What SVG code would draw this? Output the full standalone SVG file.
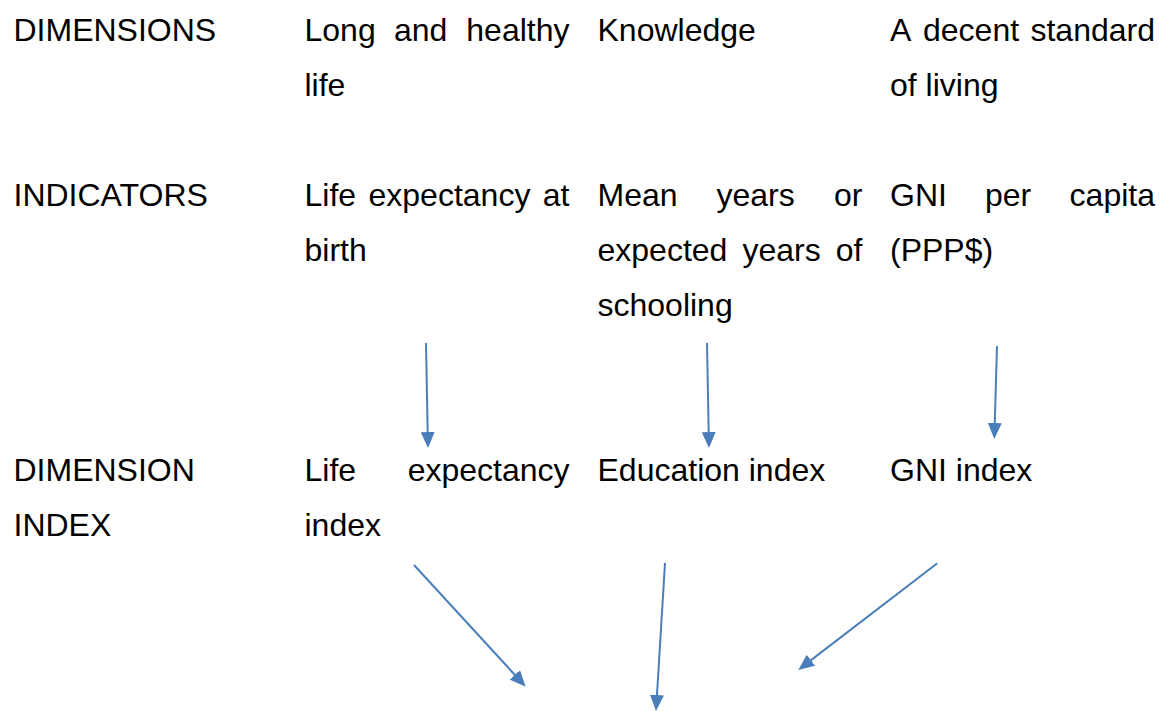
<svg xmlns="http://www.w3.org/2000/svg" width="1159" height="711" viewBox="0 0 1159 711">
  <style>
    text { font-family: "Liberation Sans", Arial, sans-serif; font-size: 32px; fill: #000; }
    .r { text-anchor: end; }
    .arrow { stroke: #4A7EBB; stroke-width: 2; fill: none; marker-end: url(#head); }
  </style>
  <defs>
    <marker id="head" viewBox="0 0 8 7" refX="3" refY="3.5" markerWidth="8" markerHeight="7" markerUnits="strokeWidth" orient="auto">
      <path d="M0,0 L8,3.5 L0,7 z" fill="#4A7EBB"/>
    </marker>
  </defs>
  <rect width="1159" height="711" fill="#fff"/>

  <!-- row labels -->
  <g id="label-dimensions"><text x="13.5" y="40.5">DIMENSIONS</text></g>
  <g id="label-indicators"><text x="13.5" y="205.5">INDICATORS</text></g>
  <g id="label-dimension-index">
    <text x="13.5" y="480.5">DIMENSION</text>
    <text x="13.5" y="535.5">INDEX</text>
  </g>

  <!-- dimensions row -->
  <g id="dim-health">
    <text x="304.5" y="40.5">Long</text><text x="394" y="40.5">and</text><text class="r" x="569.5" y="40.5">healthy</text>
    <text x="304.5" y="95.5">life</text>
  </g>
  <g id="dim-knowledge"><text x="597.5" y="40.5">Knowledge</text></g>
  <g id="dim-living">
    <text x="890" y="40.5">A</text><text x="923" y="40.5">decent</text><text class="r" x="1155" y="40.5">standard</text>
    <text x="890" y="95.5">of living</text>
  </g>

  <!-- indicators row -->
  <g id="ind-life">
    <text x="304.5" y="205.5">Life</text><text x="368.5" y="205.5">expectancy</text><text class="r" x="569.5" y="205.5">at</text>
    <text x="304.5" y="260.5">birth</text>
  </g>
  <g id="ind-school">
    <text x="597.5" y="205.5">Mean</text><text x="716.5" y="205.5">years</text><text class="r" x="862.5" y="205.5">or</text>
    <text x="597.5" y="260.5">expected</text><text x="742.5" y="260.5">years</text><text class="r" x="862.5" y="260.5">of</text>
    <text x="597.5" y="315.5">schooling</text>
  </g>
  <g id="ind-gni">
    <text x="890" y="205.5">GNI</text><text x="985" y="205.5">per</text><text class="r" x="1155" y="205.5">capita</text>
    <text x="890" y="260.5">(PPP$)</text>
  </g>

  <!-- dimension index row -->
  <g id="idx-life">
    <text x="304.5" y="480.5">Life</text><text class="r" x="569.5" y="480.5">expectancy</text>
    <text x="304.5" y="535.5">index</text>
  </g>
  <g id="idx-edu"><text x="597.5" y="480.5">Education index</text></g>
  <g id="idx-gni"><text x="890" y="480.5">GNI index</text></g>

  <!-- connectors -->
  <g id="connectors">
    <line class="arrow" x1="426" y1="343" x2="427.8" y2="438"/>
    <line class="arrow" x1="707" y1="343" x2="708.8" y2="438"/>
    <line class="arrow" x1="997" y1="346" x2="994.6" y2="429"/>
    <line class="arrow" x1="414" y1="565" x2="518.9" y2="679.3"/>
    <line class="arrow" x1="665" y1="563" x2="656.6" y2="701"/>
    <line class="arrow" x1="937.3" y1="563.3" x2="806.2" y2="663.9"/>
  </g>
</svg>
